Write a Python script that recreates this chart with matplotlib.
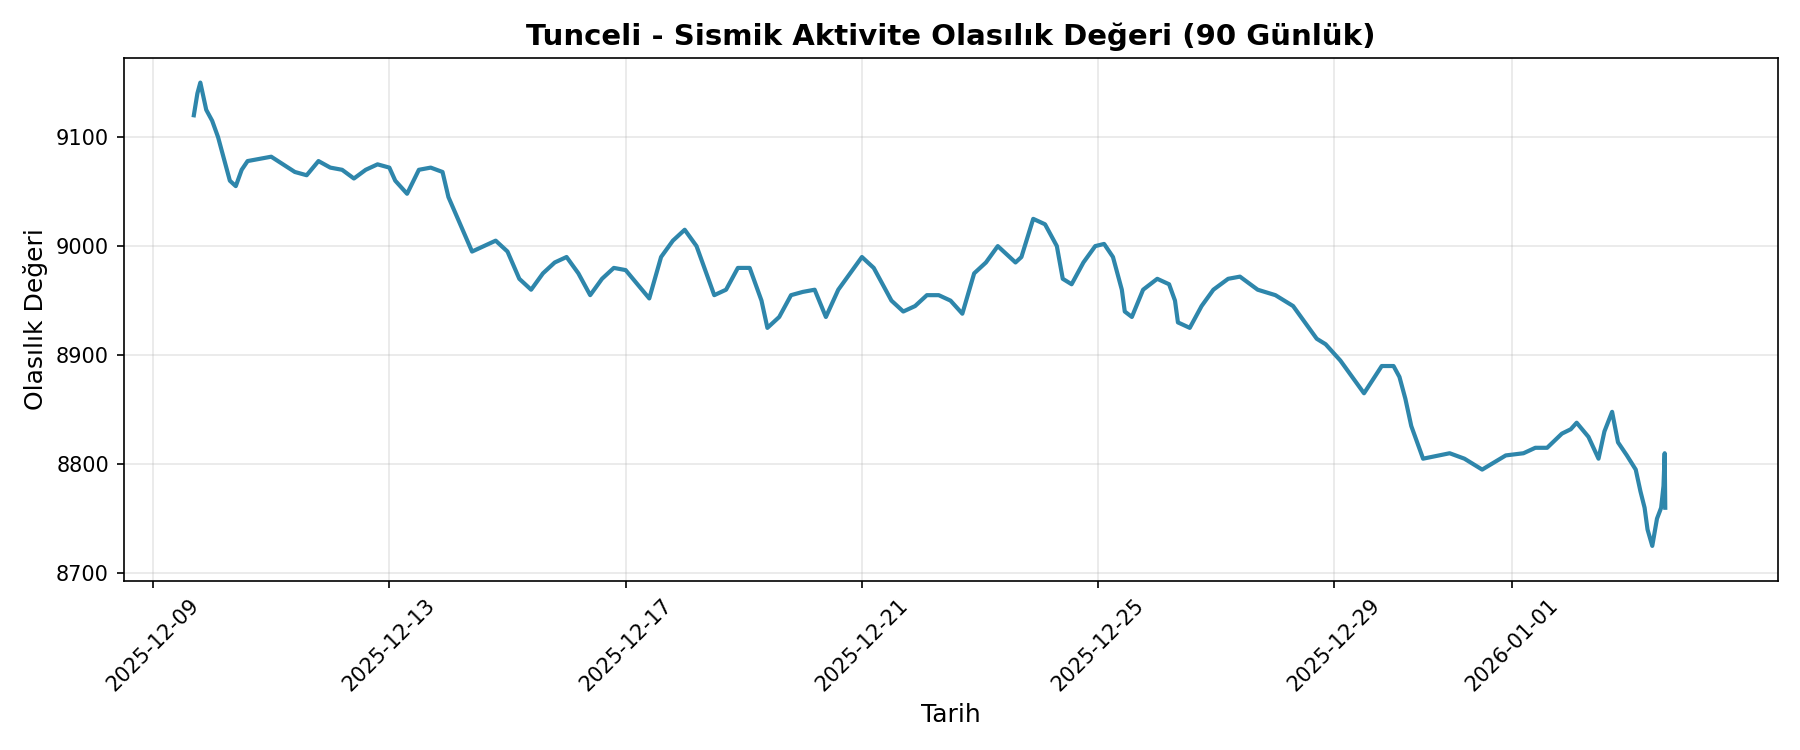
import matplotlib
matplotlib.use("Agg")
import matplotlib.pyplot as plt
import matplotlib.dates as mdates
import pandas as pd

# (day offset from 2025-12-09, value)
points = [
    (0.69, 9120), (0.75, 9140), (0.8, 9150), (0.9, 9125), (1.0, 9115), (1.1, 9100),
    (1.2, 9080), (1.3, 9060), (1.4, 9055), (1.5, 9070), (1.6, 9078), (1.8, 9080),
    (2.0, 9082), (2.2, 9075), (2.4, 9068), (2.6, 9065), (2.8, 9078), (3.0, 9072),
    (3.2, 9070), (3.4, 9062), (3.6, 9070), (3.8, 9075), (4.0, 9072), (4.1, 9060),
    (4.3, 9048), (4.5, 9070), (4.7, 9072), (4.9, 9068), (5.0, 9045), (5.2, 9020),
    (5.4, 8995), (5.6, 9000), (5.8, 9005), (6.0, 8995), (6.2, 8970), (6.4, 8960),
    (6.6, 8975), (6.8, 8985), (7.0, 8990), (7.2, 8975), (7.4, 8955), (7.6, 8970),
    (7.8, 8980), (8.0, 8978), (8.2, 8965), (8.4, 8952), (8.6, 8990), (8.8, 9005),
    (9.0, 9015), (9.2, 9000), (9.4, 8970), (9.5, 8955), (9.7, 8960), (9.9, 8980),
    (10.1, 8980), (10.3, 8950), (10.4, 8925), (10.6, 8935), (10.8, 8955), (11.0, 8958),
    (11.2, 8960), (11.39, 8935), (11.6, 8960), (11.8, 8975), (12.0, 8990), (12.2, 8980),
    (12.5, 8950), (12.7, 8940), (12.9, 8945), (13.1, 8955), (13.3, 8955), (13.5, 8950),
    (13.7, 8938), (13.9, 8975), (14.1, 8985), (14.3, 9000), (14.4, 8995), (14.6, 8985),
    (14.7, 8990), (14.9, 9025), (15.1, 9020), (15.3, 9000), (15.4, 8970), (15.55, 8965),
    (15.75, 8985), (15.95, 9000), (16.1, 9002), (16.25, 8990), (16.4, 8960), (16.45, 8940),
    (16.57, 8935), (16.76, 8960), (17.0, 8970), (17.2, 8965), (17.3, 8950), (17.35, 8930),
    (17.55, 8925), (17.75, 8945), (17.95, 8960), (18.2, 8970), (18.4, 8972), (18.7, 8960),
    (19.0, 8955), (19.3, 8945), (19.5, 8930), (19.7, 8915), (19.85, 8910), (20.1, 8895),
    (20.3, 8880), (20.5, 8865), (20.8, 8890), (21.0, 8890), (21.1, 8880), (21.2, 8860),
    (21.3, 8835), (21.5, 8805), (21.95, 8810), (22.2, 8805), (22.5, 8795), (22.9, 8808),
    (23.2, 8810), (23.4, 8815), (23.6, 8815), (23.85, 8828), (24.0, 8832), (24.1, 8838),
    (24.3, 8825), (24.47, 8805), (24.57, 8830), (24.7, 8848), (24.8, 8820), (24.95, 8808),
    (25.1, 8795), (25.18, 8775), (25.25, 8760), (25.3, 8740), (25.38, 8725), (25.46, 8750),
    (25.53, 8760), (25.57, 8780), (25.59, 8810), (25.6, 8760),
]
day_offsets = [p[0] for p in points]
values = [p[1] for p in points]
xtick_labels = ["2025-12-09", "2025-12-13", "2025-12-17", "2025-12-21",
                "2025-12-25", "2025-12-29", "2026-01-01"]

start = pd.Timestamp("2025-12-09")
dates = [start + pd.Timedelta(days=d) for d in day_offsets]

fig, ax = plt.subplots(figsize=(12, 5), dpi=150)
ax.plot(dates, values, color="#2E86AB", linewidth=2)
ax.set_title("Tunceli - Sismik Aktivite Olasılık Değeri (90 Günlük)", fontsize=14, fontweight="bold")
ax.set_xlabel("Tarih", fontsize=12)
ax.set_ylabel("Olasılık Değeri", fontsize=12)
ax.grid(True, alpha=0.3)
ax.set_xlim(pd.Timestamp("2025-12-08 12:00"), pd.Timestamp("2026-01-05 12:00"))
ax.set_ylim(8693, 9173)
ax.set_xticks(pd.to_datetime(xtick_labels))
ax.xaxis.set_major_formatter(mdates.DateFormatter("%Y-%m-%d"))
plt.setp(ax.get_xticklabels(), rotation=45)
fig.tight_layout()
fig.savefig("out.png")
